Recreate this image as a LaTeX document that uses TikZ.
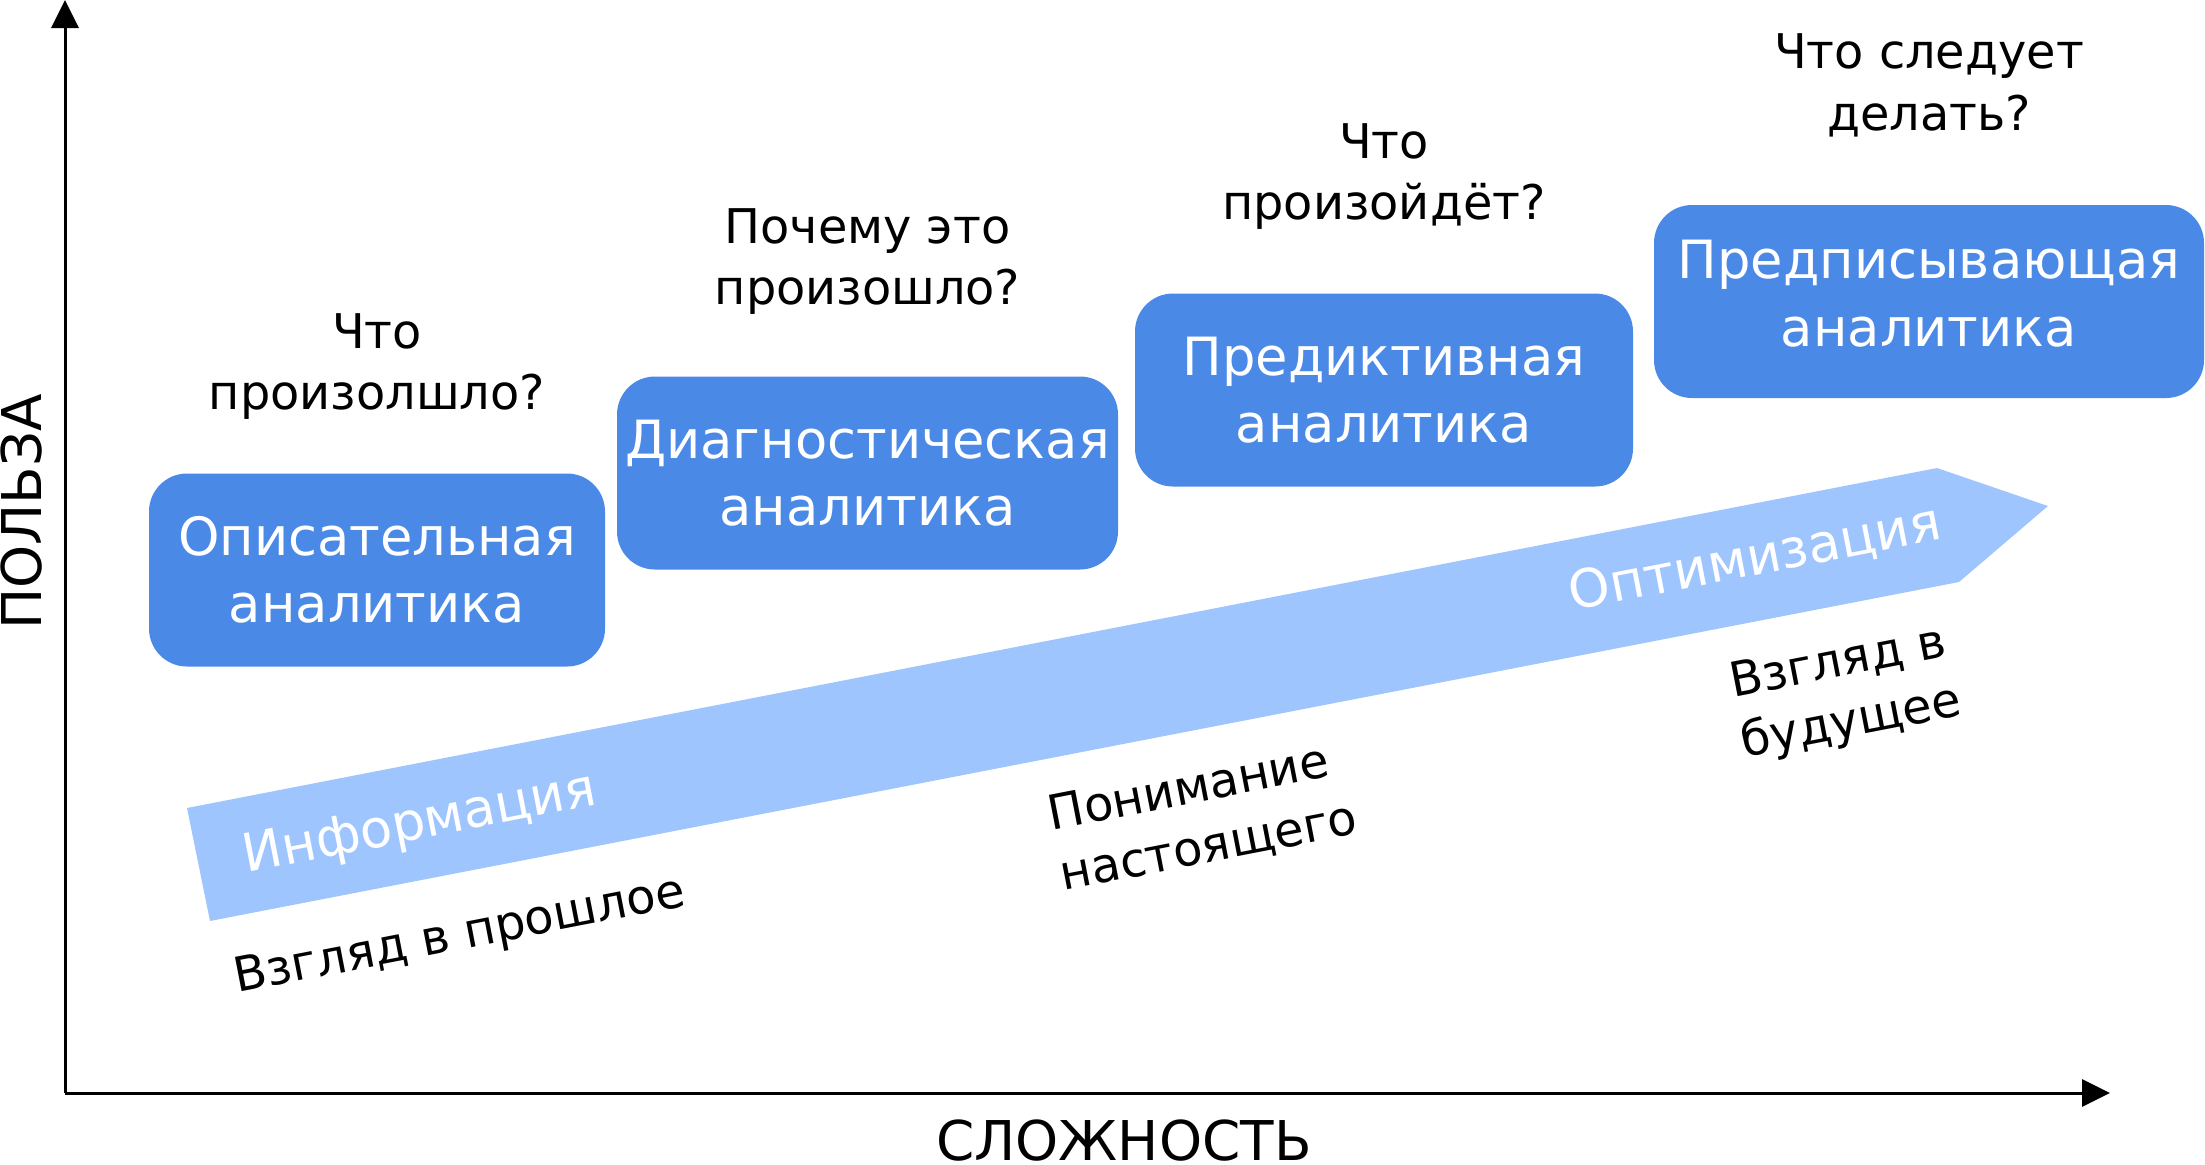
\documentclass[tikz,border=0pt]{standalone}
\usepackage{fontspec}
\setmainfont{DejaVu Sans}
\usetikzlibrary{arrows.meta,positioning}
\definecolor{stageblue}{RGB}{74,137,230}
\definecolor{flowblue}{RGB}{159,197,255}
\tikzset{
  stage/.style={fill=stageblue, rounded corners=3.8mm, align=center, text=white,
    minimum height=19.3mm, inner sep=0pt, font=\fontsize{15}{19.2}\selectfont},
  question/.style={align=center, inner sep=0pt, font=\fontsize{13.6}{17.4}\selectfont},
  view/.style={align=left, inner sep=0pt, rotate=11, font=\fontsize{13.6}{17.4}\selectfont},
  flowtext/.style={text=white, inner sep=0pt, rotate=11, font=\fontsize{15}{19.2}\selectfont},
  axislabel/.style={inner sep=0pt, font=\fontsize{15.6}{18}\selectfont},
  arr/.style={-{Triangle[length=2.8mm,width=2.7mm]}, line width=0.3mm}
}

\begin{document}
\begin{tikzpicture}[x=0.1mm, y=-0.1mm]
  \useasboundingbox (0,0) rectangle (2205,1164);
  % axes
  \coordinate (origin) at (65,1093);
  \coordinate (ytip) at (65,0);
  \coordinate (xtip) at (2110,1093);
  \draw[arr] (origin) -- (ytip);
  \draw[arr] (origin) -- (xtip);
  \node[axislabel, rotate=90] (usefulness) at (22,512) {ПОЛЬЗА};
  \node[axislabel] (complexity) at (1124,1141) {СЛОЖНОСТЬ};

  % wide arrow
  \fill[flowblue] (187,808) -- (1937,468) -- (2048,506) -- (1959,582) -- (210,921) -- cycle;
  \node[flowtext] (info) at (420,825) {Информация};
  \node[flowtext] (optim) at (1755,559) {Оптимизация};

  % stages
  \node[stage, minimum width=45.6mm] (descr) at (377,570) {Описательная\\аналитика};
  \node[stage, minimum width=50.1mm] (diagn) at (867.5,473) {Диагностическая\\аналитика};
  \node[stage, minimum width=49.8mm] (predict) at (1384,390) {Предиктивная\\аналитика};
  \node[stage, minimum width=55mm, text depth=1.6mm] (prescr) at (1929,301.5) {Предписывающая\\аналитика};

  \node[question, above=5.3mm of descr] (q1) {Что\\произолшло?};
  \node[question, above=6.1mm of diagn] (q2) {Почему это\\произошло?};
  \node[question, above=6.3mm of predict] (q3) {Что\\произойдёт?};
  \node[question, above=6.7mm of prescr] (q4) {Что следует\\делать?};

  % views
  \node[view] (past) at (460,937) {Взгляд в прошлое};
  \node[view] (present) at (1203,818) {Понимание\\настоящего};
  \node[view] (future) at (1846,694) {Взгляд в\\будущее};
\end{tikzpicture}
\end{document}
